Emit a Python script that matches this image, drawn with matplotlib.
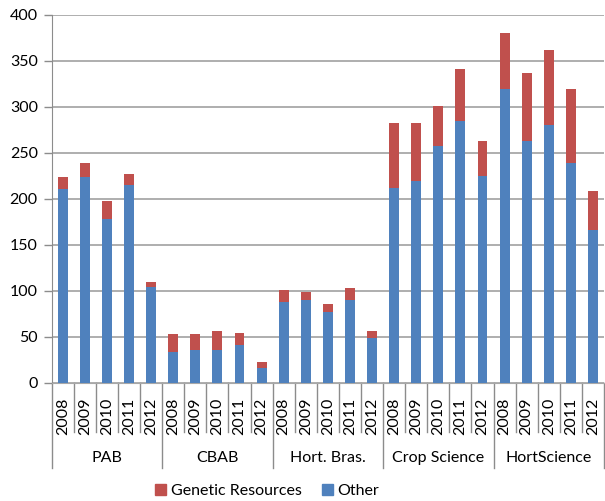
import numpy as np
import matplotlib
matplotlib.use('Agg')
import matplotlib.pyplot as plt
from matplotlib.patches import Patch

plt.rcParams['font.family'] = ['Lato', 'DejaVu Sans']

# journals and years
groups = ['PAB', 'CBAB', 'Hort. Bras.', 'Crop Science', 'HortScience']
years = ['2008', '2009', '2010', '2011', '2012']

# "Other" (blue, bottom) and totals
other = [211, 224, 178, 215, 104,
         33, 36, 36, 41, 16,
         88, 90, 77, 90, 49,
         212, 219, 258, 285, 225,
         320, 263, 280, 239, 166]
total = [224, 239, 198, 227, 110,
         53, 53, 56, 54, 22,
         101, 99, 86, 103, 56,
         282, 283, 301, 341, 263,
         380, 337, 362, 320, 209]
genetic = [t - o for t, o in zip(total, other)]

c_red = '#C0504D'
c_blue = '#4F81BD'

fig = plt.figure(figsize=(6.05, 5.01), dpi=100)
ax = fig.add_axes([51.7 / 605, 1 - 382.7 / 501, 552.3 / 605, 367.7 / 501])

n = len(other)
x = np.arange(n)
ax.bar(x, other, width=0.45, color=c_blue, zorder=3)
ax.bar(x, genetic, width=0.45, bottom=other, color=c_red, zorder=3)

ax.set_xlim(-0.5, n - 0.5)
ax.set_ylim(0, 400)
ax.set_yticks(np.arange(0, 401, 50))
ax.tick_params(axis='y', length=6, width=1, color='#8c8c8c', labelsize=11.5, pad=4)
ax.set_xticks([])
ax.yaxis.grid(True, color='#a8a8a8', linewidth=1.3, zorder=0)
for s in ['top', 'right']:
    ax.spines[s].set_visible(False)
ax.spines['left'].set_color('#8c8c8c')
ax.spines['bottom'].set_color('#a8a8a8')

tr = ax.get_xaxis_transform()
# separators between bars and between groups
for i in range(n + 1):
    xpos = i - 0.5
    low = -0.232 if i % 5 == 0 else -0.134
    ax.plot([xpos, xpos], [0, low], transform=tr, color='#8c8c8c', lw=1, clip_on=False)

# year labels
for i in range(n):
    ax.text(i, -0.041, years[i % 5], transform=tr, rotation=90, ha='center', va='top',
            fontsize=11.5, color='black')

# group labels
for g, name in enumerate(groups):
    ax.text(g * 5 + 2, -0.205, name, transform=tr, ha='center', va='center',
            fontsize=11.5, color='black')

handles = [Patch(color=c_red, label='Genetic Resources'), Patch(color=c_blue, label='Other')]
fig.legend(handles=handles, loc='center', bbox_to_anchor=(267 / 605, 1 - 491 / 501), ncol=2,
           frameon=False, fontsize=11.5, handlelength=0.7, handleheight=0.7,
           handletextpad=0.3, columnspacing=1.25)

fig.savefig('out.png', dpi=100)
